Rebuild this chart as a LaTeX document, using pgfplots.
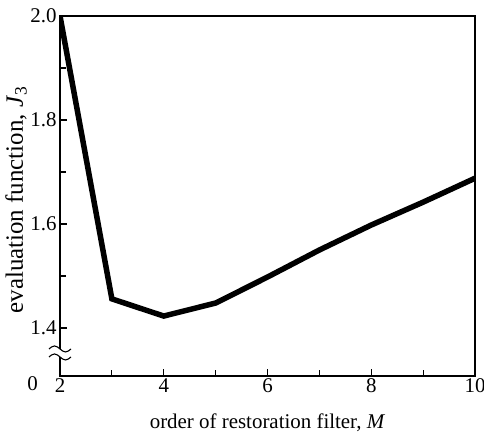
\documentclass[border=0pt]{standalone}
\usepackage{fontspec}
\setmainfont{Liberation Serif}
\usepackage{pgfplots}
\pgfplotsset{compat=1.18}
\begin{document}
\begin{tikzpicture}
\useasboundingbox (-60bp,-58bp) rectangle (424bp,376bp);
\begin{axis}[
  scale only axis, width=415bp, height=360bp,
  xmin=2, xmax=10, ymin=1.3077, ymax=2.0,
  xtick={2,4,6,8,10}, minor xtick={3,5,7,9},
  ytick={1.4,1.6,1.8,2.0}, minor ytick={1.5,1.7,1.9},
  yticklabel style={xshift=0bp, /pgf/number format/.cd, fixed, fixed zerofill, precision=1},
  /pgf/number format/assume math mode=true,
  tick align=inside, xtick pos=left, ytick pos=left,
  major tick length=7bp, minor tick length=6bp,
  axis line style={line width=1.2pt},
  tick style={line width=1.1pt, black},
  minor tick style={line width=1.1pt, black},
  tick label style={font=\fontsize{21}{23}\selectfont},
  xlabel={order of restoration filter, \textit{M}},
  ylabel={evaluation function, \textit{J}\textsubscript{3}},
  xlabel style={font=\fontsize{21}{23}\selectfont, at={(rel axis cs:0.5,0)}, anchor=center, yshift=-47bp},
  ylabel style={font=\fontsize{25}{27}\selectfont, at={(rel axis cs:0,0.5)}, anchor=center, yshift=44bp, xshift=-4bp},
  xticklabel style={yshift=1bp},
]
\addplot[black, line width=5.5bp, line join=miter] coordinates {
(2,2.0) (3,1.456) (4,1.423) (5,1.448) (6,1.498) (7,1.55) (8,1.598) (9,1.642) (10,1.688)
};
\coordinate (brk) at (axis cs:2,1.352);
\coordinate (org) at (axis cs:2,1.3077);
\end{axis}
\begin{scope}[shift={(brk)}]
\fill[white] (-3bp,-4bp) rectangle (3bp,4bp);
\draw[line width=1.1pt] (-11bp,4bp) sin (-5.5bp,7bp) cos (0bp,4bp) sin (5.5bp,1bp) cos (11bp,4bp);
\draw[line width=1.1pt] (-11bp,-4bp) sin (-5.5bp,-1bp) cos (0bp,-4bp) sin (5.5bp,-7bp) cos (11bp,-4bp);
\end{scope}
\node[anchor=center, font=\fontsize{21}{23}\selectfont] at ([xshift=-27.5bp, yshift=-8bp]org) {0};
\end{tikzpicture}
\end{document}
